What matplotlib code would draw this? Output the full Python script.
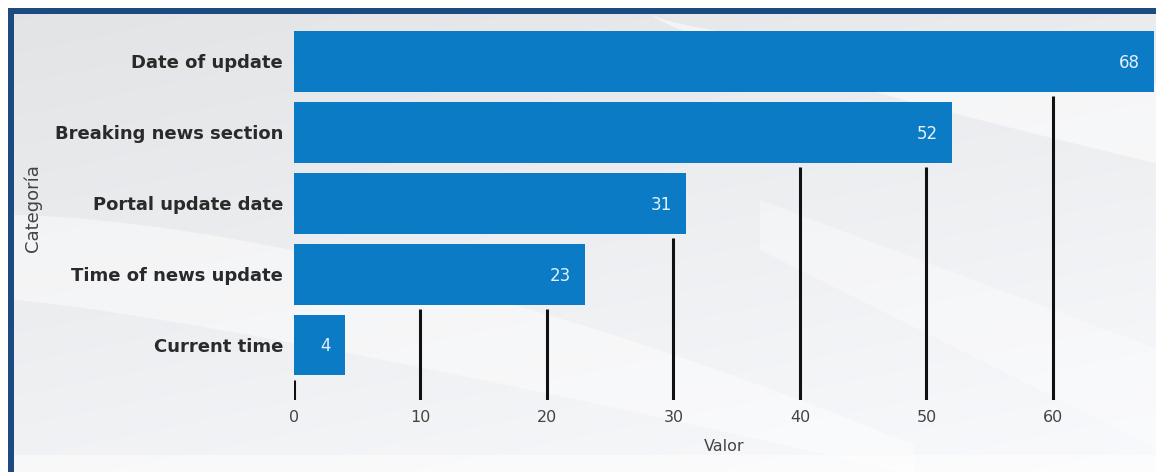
import numpy as np
import matplotlib
matplotlib.use("Agg")
import matplotlib.pyplot as plt
from matplotlib.patches import Rectangle, Polygon

categories = ["Date of update", "Breaking news section", "Portal update date",
              "Time of news update", "Current time"]
values = [68, 52, 31, 23, 4]
x_ticks = [0, 10, 20, 30, 40, 50, 60]

BAR_COLOR = "#0a7bc4"
GRID_COLOR = "#111111"
TEXT_DARK = "#2a2a2a"

W, H, DPI = 1156, 472, 100
fig = plt.figure(figsize=(W / DPI, H / DPI), dpi=DPI)
fig.patch.set_facecolor("white")

# soft grey backdrop with light swooshes
bg = fig.add_axes([0, 0, 1, 1], zorder=0)
bg.set_xlim(0, W)
bg.set_ylim(H, 0)
bg.axis("off")
yy, xx = np.mgrid[0:H, 0:W]
shade = 0.90 + 0.06 * (yy / H) + 0.03 * (xx / W)
shade = np.clip(shade, 0, 1)
img = np.dstack([shade * 0.985, shade * 0.99, shade * 1.0])
bg.imshow(img, extent=[0, W, H, 0], aspect="auto", zorder=0)

def swoosh(pts, alpha):
    bg.add_patch(Polygon(pts, closed=True, facecolor="white", edgecolor="none",
                         alpha=alpha, zorder=1))

t = np.linspace(0, 1, 60)
upper = np.column_stack([14 + t * 900, 215 + 230 * t ** 1.6])
lower = np.column_stack([14 + t * 900, 300 + 175 * t ** 1.2])[::-1]
swoosh(np.vstack([upper, lower]), 0.45)
upper = np.column_stack([650 + t * 510, 14 + 150 * t ** 0.8])
lower = np.column_stack([650 + t * 510, 14 + 70 * t ** 0.7])[::-1]
swoosh(np.vstack([upper, lower]), 0.55)
upper = np.column_stack([760 + t * 400, 200 + 150 * t])
lower = np.column_stack([760 + t * 400, 250 + 200 * t])[::-1]
swoosh(np.vstack([upper, lower]), 0.35)
bg.add_patch(Rectangle((0, 455), W, 17, facecolor="white", alpha=0.5,
                       edgecolor="none", zorder=1))

# navy frame on the top and left edges
bg.add_patch(Rectangle((0, 0), W, 8, facecolor="white", edgecolor="none", zorder=2))
bg.add_patch(Rectangle((0, 0), 8, H, facecolor="white", edgecolor="none", zorder=2))
bg.add_patch(Rectangle((8, 8), W - 8, 6, facecolor="#1e4a80", edgecolor="none", zorder=3))
bg.add_patch(Rectangle((8, 8), 6, H - 8, facecolor="#1e4a80", edgecolor="none", zorder=3))

# main bar chart
left_px, right_px, top_px, bottom_px = 294, 1155, 31, 400
ax = fig.add_axes([left_px / W, (H - bottom_px) / H,
                   (right_px - left_px) / W, (bottom_px - top_px) / H], zorder=2)
ax.patch.set_alpha(0)

n = len(categories)
ypos = np.arange(n)[::-1]
bar_h = 0.86
ax.barh(ypos, values, height=bar_h, color=BAR_COLOR, zorder=3)

ax.set_xlim(0, 68.07)
ax.set_ylim(-0.776, 4.43)

# vertical guide lines end just under the lowest bar that crosses them
gap = 0.06
order = np.argsort(ypos)
for tx in x_ticks:
    top = ax.get_ylim()[1]
    for i in order:
        if values[i] > tx:
            top = ypos[i] - bar_h / 2 - gap
            break
    ax.vlines(tx, ax.get_ylim()[0], top, color=GRID_COLOR, linewidth=2.2, zorder=2)

for y, v in zip(ypos, values):
    ax.annotate(str(v), xy=(v, y), xytext=(-10, -1), textcoords="offset points",
                ha="right", va="center", color="#e4f1fb", fontsize=12,
                family="DejaVu Sans", zorder=4)

ax.set_yticks(ypos)
ax.set_yticklabels(categories, fontsize=13, fontweight="bold", color=TEXT_DARK,
                   family="DejaVu Sans")
ax.set_xticks(x_ticks)
ax.set_xticklabels([str(v) for v in x_ticks], fontsize=11.5, color="#444444",
                   family="DejaVu Sans")
ax.tick_params(axis="y", length=0, pad=8)
ax.tick_params(axis="x", length=0, pad=7)
for s in ax.spines.values():
    s.set_visible(False)

ax.set_xlabel("Valor", fontsize=11.5, color="#444444", labelpad=10, family="DejaVu Sans")
fig.text(33 / W, 1 - 208 / H, "Categoría", rotation=90, ha="center", va="center",
         fontsize=13, color="#444444", family="DejaVu Sans")

fig.savefig("out.png", dpi=DPI)
